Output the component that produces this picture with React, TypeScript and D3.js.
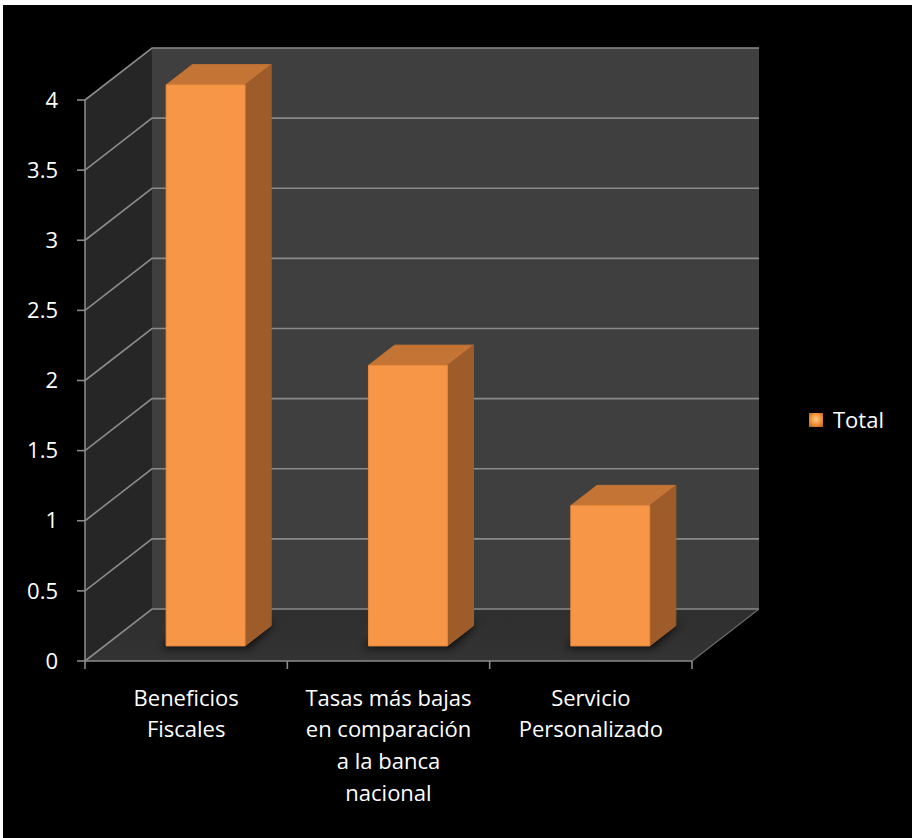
import React from "react";
import * as d3 from "d3";

const categories = [
  ["Beneficios", "Fiscales"],
  ["Tasas más bajas", "en comparación", "a la banca", "nacional"],
  ["Servicio", "Personalizado"],
];
const totals = [4, 2, 1];
const yTicks = [0, 0.5, 1, 1.5, 2, 2.5, 3, 3.5, 4];
const seriesName = "Total";

const W = 912;
const H = 838;
// depth of the 3D box (back wall offset)
const DX = 67;
const DY = 52;
const font = "'Open Sans', 'Noto Sans', sans-serif";
const fs = 22;

export default function App() {
  const x = d3
    .scaleBand<number>()
    .domain(categories.map((_, i) => i))
    .range([85, 692])
    .paddingInner(0)
    .paddingOuter(0);
  const y = d3.scaleLinear().domain([0, 4]).range([661, 100]);

  const x0 = 85;
  const x1 = 692;
  const yb = y(0);
  const yt = y(4);

  const pt = (px: number, py: number, z: number) => [px + DX * z, py - DY * z];
  const poly = (pts: number[][]) => pts.map((p) => p.join(",")).join(" ");

  const z0 = 0.29;
  const z1 = 0.68;
  const barW = x.bandwidth() * 0.39;

  return (
    <svg
      width={W}
      height={H}
      style={{ position: "absolute", left: 0, top: 0 }}
      fontFamily={font}
    >
      <defs>
        <filter id="shadow" x="-50%" y="-50%" width="200%" height="200%">
          <feGaussianBlur stdDeviation="4" />
        </filter>
        <radialGradient id="legGrad" cx="0.5" cy="0.45" r="0.7">
          <stop offset="0" stopColor="#fbd08a" />
          <stop offset="0.5" stopColor="#f5963f" />
          <stop offset="1" stopColor="#b8621d" />
        </radialGradient>
        <linearGradient id="floorGrad" x1="0" y1="0" x2="0" y2="1">
          <stop offset="0" stopColor="#2e2e2e" />
          <stop offset="1" stopColor="#333333" />
        </linearGradient>
      </defs>
      <rect x={0} y={0} width={W} height={H} fill="#ffffff" />
      <rect x={3} y={5} width={W - 3} height={H - 5} fill="#000000" />

      {/* back wall */}
      <polygon
        points={poly([pt(x0, yt, 1), pt(x1, yt, 1), pt(x1, yb, 1), pt(x0, yb, 1)])}
        fill="#3f3f3f"
      />
      {/* left wall */}
      <polygon
        points={poly([pt(x0, yt, 0), pt(x0, yt, 1), pt(x0, yb, 1), pt(x0, yb, 0)])}
        fill="#262626"
      />
      {/* floor */}
      <polygon
        points={poly([pt(x0, yb, 0), pt(x0, yb, 1), pt(x1, yb, 1), pt(x1, yb, 0)])}
        fill="url(#floorGrad)"
      />

      {/* gridlines */}
      {yTicks.map((t) => {
        const a = pt(x0, y(t), 0);
        const b = pt(x0, y(t), 1);
        const c = pt(x1, y(t), 1);
        return (
          <g key={t} stroke="#8a8a8a" strokeWidth={1.6} fill="none">
            <polyline points={poly([a, b, c])} />
          </g>
        );
      })}
      {/* floor right edge */}
      <line
        x1={x1}
        y1={yb}
        x2={x1 + DX}
        y2={yb - DY}
        stroke="#6a6a6a"
        strokeWidth={1.2}
      />

      {/* bar shadows */}
      {totals.map((v, i) => {
        const cx = (x(i) as number) + x.bandwidth() / 2;
        const l = cx - barW / 2 - 6;
        const r = cx + barW / 2;
        return (
          <polygon
            key={"s" + i}
            points={poly([
              pt(l, yb + 2, z0),
              pt(l, yb, z1 + 0.05),
              pt(r, yb, z1 + 0.05),
              pt(r + 4, yb + 2, z0),
            ])}
            fill="#000"
            opacity={0.75}
            filter="url(#shadow)"
          />
        );
      })}

      {/* bars */}
      {totals.map((v, i) => {
        const cx = (x(i) as number) + x.bandwidth() / 2;
        const l = cx - barW / 2;
        const r = cx + barW / 2;
        const top = y(v);
        return (
          <g key={"b" + i} strokeLinejoin="round">
            <polygon
              points={poly([pt(l, top, z0), pt(l, top, z1), pt(r, top, z1), pt(r, top, z0)])}
              fill="#c47535"
              stroke="#c47535"
              strokeWidth={1}
            />
            <polygon
              points={poly([pt(r, top, z0), pt(r, top, z1), pt(r, yb, z1), pt(r, yb, z0)])}
              fill="#9e5c2a"
              stroke="#9e5c2a"
              strokeWidth={1}
            />
            <polygon
              points={poly([pt(l, top, z0), pt(r, top, z0), pt(r, yb, z0), pt(l, yb, z0)])}
              fill="#f79646"
              stroke="#e98a3e"
              strokeWidth={1}
            />
          </g>
        );
      })}

      {/* value axis */}
      <line x1={x0} y1={yt} x2={x0} y2={yb} stroke="#8a8a8a" strokeWidth={1.6} />
      {yTicks.map((t) => (
        <g key={"t" + t}>
          <line x1={x0 - 8} x2={x0} y1={y(t)} y2={y(t)} stroke="#8a8a8a" strokeWidth={1.6} />
          <text
            x={58}
            y={y(t)}
            dy="0.35em"
            textAnchor="end"
            fill="#ffffff"
            fontSize={fs}
          >
            {t}
          </text>
        </g>
      ))}

      {/* category axis */}
      <line x1={x0} y1={yb} x2={x1} y2={yb} stroke="#8a8a8a" strokeWidth={1.6} />
      {[...categories.map((_, i) => x(i) as number), x1].map((tx, i) => (
        <line
          key={"c" + i}
          x1={tx}
          x2={tx}
          y1={yb}
          y2={yb + 8}
          stroke="#8a8a8a"
          strokeWidth={1.6}
        />
      ))}
      {categories.map((lines, i) => (
        <text
          key={"l" + i}
          x={(x(i) as number) + x.bandwidth() / 2}
          textAnchor="middle"
          fill="#ffffff"
          fontSize={fs}
        >
          {lines.map((ln, j) => (
            <tspan key={j} x={(x(i) as number) + x.bandwidth() / 2} y={698 + j * 31.7} dy="0.35em">
              {ln}
            </tspan>
          ))}
        </text>
      ))}

      {/* legend */}
      <rect x={809} y={413} width={14} height={14} fill="url(#legGrad)" />
      <text x={833} y={420} dy="0.35em" fill="#ffffff" fontSize={fs}>
        {seriesName}
      </text>
    </svg>
  );
}
